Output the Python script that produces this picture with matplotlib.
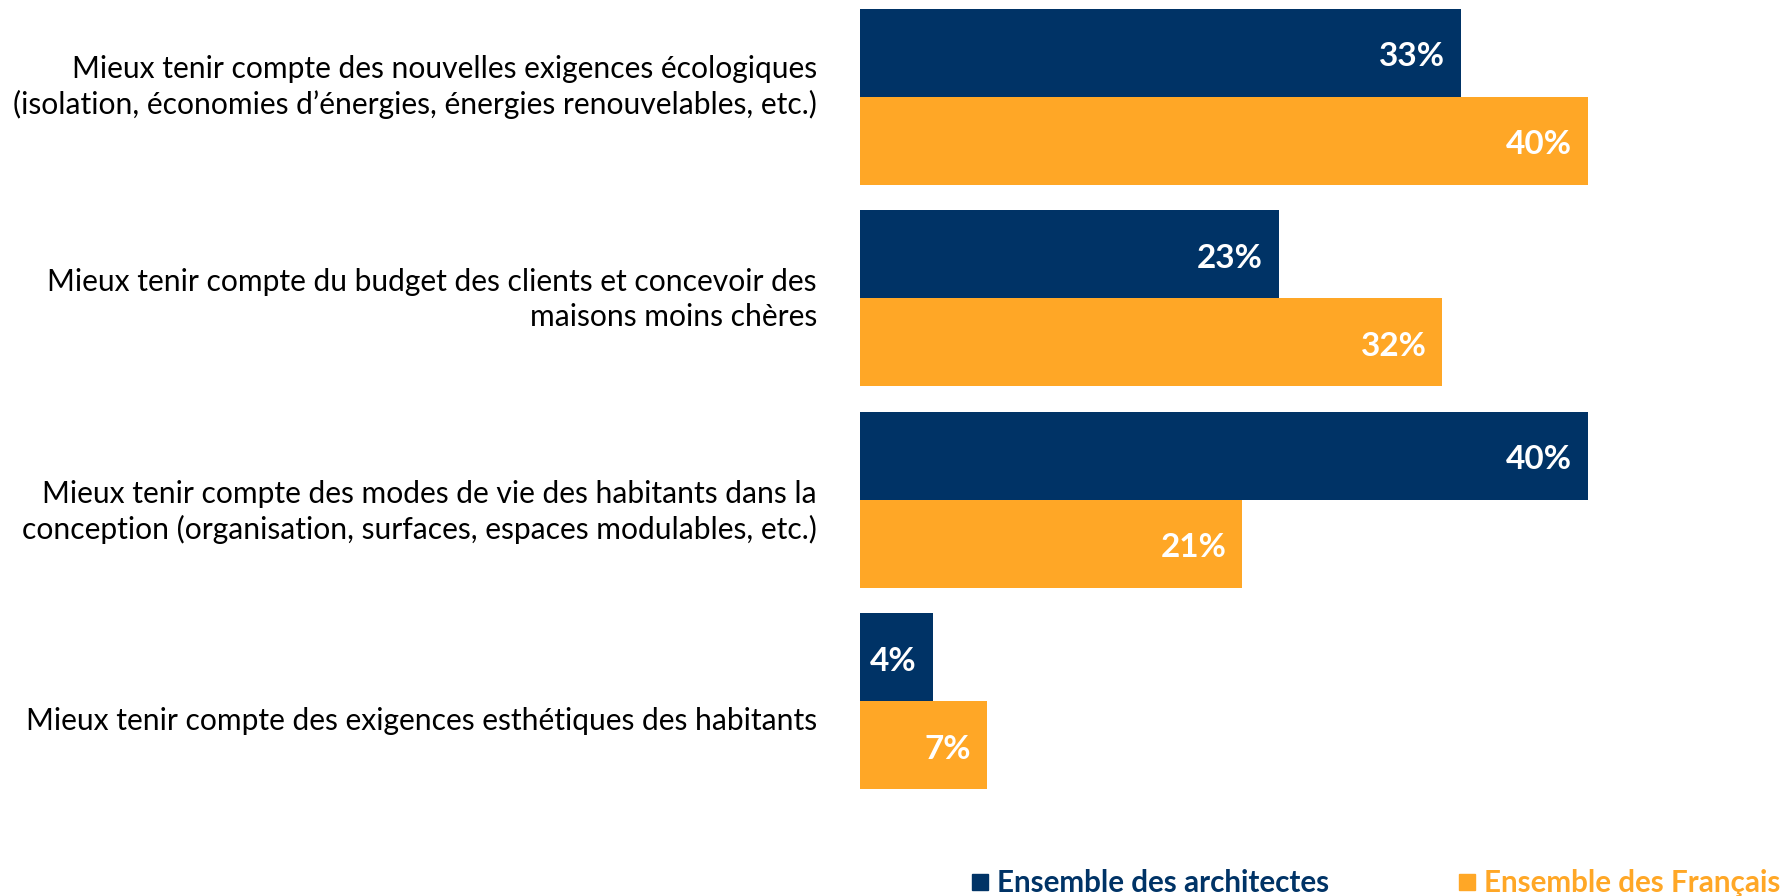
import numpy as np
import matplotlib.pyplot as plt
from matplotlib.lines import Line2D
from matplotlib.transforms import ScaledTranslation

categories = [
    "Mieux tenir compte des nouvelles exigences écologiques\n(isolation, économies d\u2019énergies, énergies renouvelables, etc.)",
    "Mieux tenir compte du budget des clients et concevoir des\nmaisons moins chères",
    "Mieux tenir compte des modes de vie des habitants dans la\nconception (organisation, surfaces, espaces modulables, etc.)",
    "Mieux tenir compte des exigences esthétiques des habitants",
]
architectes = [33, 23, 40, 4]
francais = [40, 32, 21, 7]
series_names = ["Ensemble des architectes", "Ensemble des Français"]

NAVY = "#003366"
ORANGE = "#FFA726"

plt.rcParams['font.family'] = ['Lato', 'DejaVu Sans']

W, H = 1782, 896
fig = plt.figure(figsize=(W / 100, H / 100), dpi=100)
ax = fig.add_axes([860 / W, (H - 790) / H, 910 / W, 790 / H])

y = np.arange(len(categories))
h = 0.437
ax.barh(y - h / 2, architectes, height=h, color=NAVY)
ax.barh(y + h / 2, francais, height=h, color=ORANGE)

for yy, v in zip(y - h / 2, architectes):
    ax.annotate(f"{v}%", (v, yy), xytext=(-16, -4), textcoords="offset pixels",
                ha="right", va="center", color="white", fontsize=24, fontweight="bold")
for yy, v in zip(y + h / 2, francais):
    ax.annotate(f"{v}%", (v, yy), xytext=(-16, -4), textcoords="offset pixels",
                ha="right", va="center", color="white", fontsize=24, fontweight="bold")

ax.set_xlim(0, 910 / 18.2)
ax.set_ylim(3.44, -0.48)
ax.set_yticks(y)
ax.set_yticklabels(categories, fontsize=21.6, ha="right", linespacing=1.3)
ax.tick_params(axis="y", length=0, pad=31)
ax.set_xticks([])
for s in ax.spines.values():
    s.set_visible(False)

# category labels sit on a slightly wider pitch than the bar groups
for i, lbl in enumerate(ax.get_yticklabels()):
    dy = (-16 + 11 * i) / 100
    lbl.set_transform(lbl.get_transform() + ScaledTranslation(0, -dy, fig.dpi_scale_trans))

handles = [Line2D([], [], marker="s", linestyle="none", markersize=11,
                  markerfacecolor=c, markeredgecolor=c) for c in (NAVY, ORANGE)]
fig.legend(handles, series_names, loc="lower left", bbox_to_anchor=(942 / W, -0.031),
           ncol=2, frameon=False, handlelength=0.8, handletextpad=0.17, columnspacing=4.25,
           labelcolor="markerfacecolor", prop={"size": 21.3, "weight": "bold"})

fig.savefig("out.png", dpi=100)
